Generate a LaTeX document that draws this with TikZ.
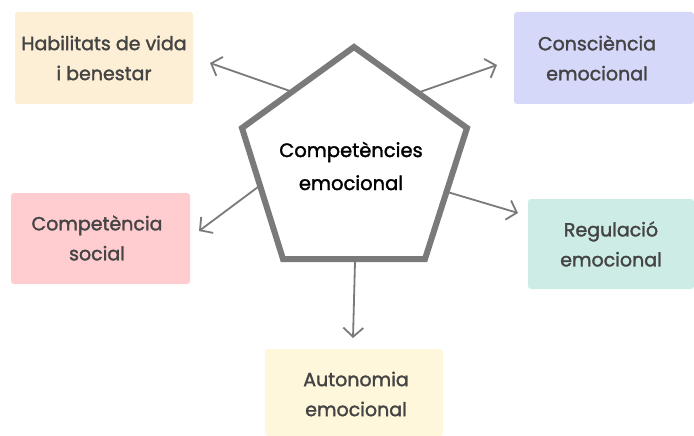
\documentclass[tikz,border=0pt]{standalone}
\usepackage{fontspec}
\setmainfont{Poppins}
\newfontfamily\medfont{Poppins}[FakeBold=1.6]
\usetikzlibrary{arrows.meta}
\definecolor{cHab}{HTML}{FDEFD6}
\definecolor{cCon}{HTML}{D6D8FA}
\definecolor{cSoc}{HTML}{FFCCD0}
\definecolor{cReg}{HTML}{CDECE6}
\definecolor{cAut}{HTML}{FFF7DC}
\definecolor{txt}{HTML}{444444}
\definecolor{edge}{HTML}{7A7A7A}
\tikzset{
  lbl/.style={text=txt, font=\medfont\fontsize{19}{30}\selectfont, align=center},
  conn/.style={draw=edge, line width=1.8pt, -{Straight Barb[length=9pt,width=20pt,line width=1.8pt]}}
}
\begin{document}
\begin{tikzpicture}[x=1pt,y=-1pt]
\useasboundingbox (0,0) rectangle (694,436);
% boxes
\fill[cHab, rounded corners=3pt] (15,12) rectangle (193,104);
\node[lbl] (hab) at (104,58) {Habilitats de vida\\i benestar};
\fill[cCon, rounded corners=3pt] (514,12) rectangle (694,104);
\node[lbl] (con) at (597,58) {Consciència\\emocional};
\fill[cSoc, rounded corners=3pt] (11,193) rectangle (190,284);
\node[lbl] (soc) at (97,238) {Competència\\social};
\fill[cReg, rounded corners=3pt] (528,199) rectangle (694,289);
\node[lbl] (reg) at (611,244) {Regulació\\emocional};
\fill[cAut, rounded corners=3pt] (265,349) rectangle (443,436);
\node[lbl] (aut) at (356,394) {Autonomia\\emocional};
% pentagon
\coordinate (pT) at (354,47);
\coordinate (pR) at (467,128);
\coordinate (pBR) at (425,259);
\coordinate (pBL) at (283,259);
\coordinate (pL) at (242,128);
\draw[edge, line width=6pt, line join=miter, fill=white] (pT) -- (pR) -- (pBR) -- (pBL) -- (pL) -- cycle;
\node[text=black, font=\medfont\fontsize{19.5}{33}\selectfont, align=center] (core) at (351,166) {Competències\\emocional};
% connector endpoints
\coordinate (sHab) at (290,91);
\coordinate (tHab) at (210,63);
\coordinate (sCon) at (417,93);
\coordinate (tCon) at (497,65);
\coordinate (sSoc) at (258,187);
\coordinate (tSoc) at (199,231);
\coordinate (sReg) at (444,191);
\coordinate (tReg) at (518,213);
\coordinate (sAut) at (355,262);
\coordinate (tAut) at (353,338);
\draw[conn] (sHab) -- (tHab);
\draw[conn] (sCon) -- (tCon);
\draw[conn] (sSoc) -- (tSoc);
\draw[conn] (sReg) -- (tReg);
\draw[conn] (sAut) -- (tAut);
\end{tikzpicture}
\end{document}
